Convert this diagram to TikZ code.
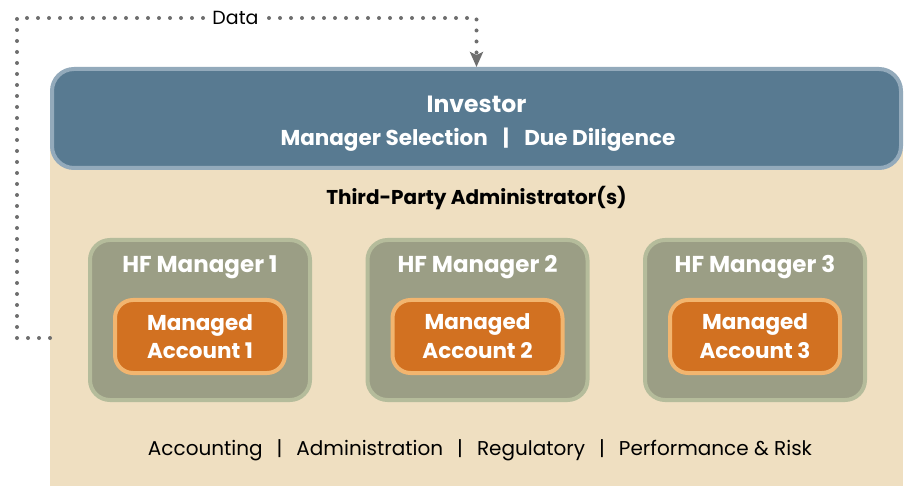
\documentclass[tikz,border=0pt]{standalone}
\usepackage{fontspec}
\setmainfont{Poppins}
\usetikzlibrary{positioning, arrows.meta}
\definecolor{admintan}{HTML}{EFDFC1}
\definecolor{invblue}{HTML}{587A91}
\definecolor{invedge}{HTML}{93AABB}
\definecolor{mgrgreen}{HTML}{9B9E85}
\definecolor{mgredge}{HTML}{B5BC9B}
\definecolor{acctorange}{HTML}{D27121}
\definecolor{acctedge}{HTML}{F2B56F}
\definecolor{dotgray}{HTML}{6E6E6E}
\newcommand{\fsz}[1]{\fontsize{#1}{#1}\selectfont}
\newcommand{\sep}{\hspace{0.7em}|\hspace{0.7em}}
\begin{document}
\begin{tikzpicture}[x=1pt, y=-1pt, thick,
    box/.style = {draw, line width=4pt, text=white, font=\bfseries},
    investor/.style = {box, fill=invblue, draw=invedge, rounded corners=22pt, minimum width=849pt, minimum height=99pt},
    invtext/.style = {text=white, font=\bfseries\fsz{#1}},
    manager/.style = {box, fill=mgrgreen, draw=mgredge, rounded corners=20pt, minimum width=220pt, minimum height=160pt},
    mgrtitle/.style = {text=white, font=\bfseries\fsz{23}},
    account/.style = {box, fill=acctorange, draw=acctedge, rounded corners=18pt, minimum width=170pt, minimum height=73pt, align=center, font=\bfseries\fsz{21.5}},
    dataline/.style = {draw=dotgray, line width=4pt, line cap=round, dash pattern=on 0pt off 11pt}]
    \useasboundingbox (0,0) rectangle (910,486);
    % Administrator background
    \fill[admintan] (50,118) rectangle (903,486);

    % Nodes
    \node[investor] (inv) at (476.5,118.5) {};
    \node[invtext=23.5] (invname) at (476.5,104) {Investor};
    \node[invtext=21.5] (invroles) at (478,140) {Manager Selection\sep Due Diligence};
    \node[font=\bfseries\fsz{20}] (tpa) at (476.5,198) {Third-Party Administrator(s)};

    \node[manager] (m1) at (200,320) {};
    \node[manager] (m2) [right=53.5pt of m1] {};
    \node[manager] (m3) [right=53.5pt of m2] {};

    \node[mgrtitle] (t1) at ([yshift=-29pt]m1.north) {HF Manager 1};
    \node[mgrtitle] (t2) at ([yshift=-29pt]m2.north) {HF Manager 2};
    \node[mgrtitle] (t3) at ([yshift=-29pt]m3.north) {HF Manager 3};

    \node[account] (a1) at ([yshift=-16.5pt]m1.center) {Managed\\[6pt]Account 1};
    \node[account] (a2) at ([yshift=-16.5pt]m2.center) {Managed\\[6pt]Account 2};
    \node[account] (a3) at ([yshift=-16.5pt]m3.center) {Managed\\[6pt]Account 3};

    \node[font=\fsz{20}] (tasks) at (480,450) {Accounting\sep Administration\sep Regulatory\sep Performance \& Risk};

    % Lines
    \coordinate (dstart) at (50,338);
    \draw[dataline, -{Stealth[length=15pt, width=13pt, inset=3pt]}] (dstart) -- (17,338) -- (17,18) -- (inv.north |- 0,18) -- (inv.north);
    \node[fill=white, inner sep=4pt, font=\fsz{19}] (data) at (235.5,18) {Data};
\end{tikzpicture}
\end{document}
